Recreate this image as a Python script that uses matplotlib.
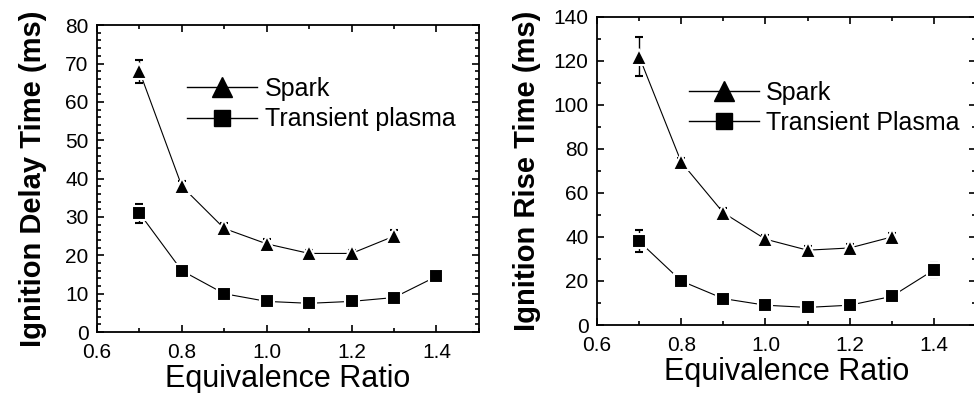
import matplotlib.pyplot as plt
from matplotlib.lines import Line2D
from matplotlib.ticker import MultipleLocator

plt.rcParams['font.family'] = ['Liberation Sans', 'DejaVu Sans']

# -----------------------------
# Data
# -----------------------------
ratio_spark = [0.7, 0.8, 0.9, 1.0, 1.1, 1.2, 1.3]
ratio_plasma = [0.7, 0.8, 0.9, 1.0, 1.1, 1.2, 1.3, 1.4]

delay_spark = [68, 38, 27, 23, 20.5, 20.5, 25]
delay_spark_err = [3, 1.5, 1.5, 1.2, 1, 1, 1.5]
delay_plasma = [31, 16, 10, 8, 7.5, 8, 9, 14.5]
delay_plasma_err = [2.5, 1.5, 1.2, 1, 0.8, 0.8, 1, 1.2]

rise_spark = [122, 74, 51, 39, 34, 35, 40]
rise_spark_err = [9, 2, 2, 2, 2, 2, 2]
rise_plasma = [38, 20, 12, 9, 8, 9, 13, 25]
rise_plasma_err = [5, 1, 1, 1, 1, 1, 2, 3]

# -----------------------------
# Figure
# -----------------------------
fig = plt.figure(figsize=(9.74, 3.93), dpi=100)
ax1 = fig.add_axes([0.0996, 0.155, 0.392, 0.781])
ax2 = fig.add_axes([0.613, 0.173, 0.389, 0.784])


def draw(ax, sy, se, py, pe, plasma_label, ymax, major, minor, ylabel,
         leg_xy, ypad):
    ax.errorbar(ratio_spark, sy, yerr=se, color='black', lw=0.8,
                elinewidth=1, capsize=3, marker='^', ms=12, mec='white',
                mew=1.5, mfc='black')
    ax.errorbar(ratio_plasma, py, yerr=pe, color='black', lw=0.8,
                elinewidth=1, capsize=3, marker='s', ms=10.5, mec='white',
                mew=1.5, mfc='black')
    ax.set_xlim(0.6, 1.5)
    ax.set_ylim(0, ymax)
    ax.xaxis.set_minor_locator(MultipleLocator(0.1))
    ax.yaxis.set_major_locator(MultipleLocator(major))
    ax.yaxis.set_minor_locator(MultipleLocator(minor))
    ax.set_xticks([0.6, 0.8, 1.0, 1.2, 1.4])
    ax.set_xticklabels(['0.6', '0.8', '1.0', '1.2', '1.4'])
    ax.tick_params(which='both', direction='in', top=True, right=True,
                   labelsize=15, width=1.2)
    ax.tick_params(which='major', length=5)
    ax.tick_params(which='minor', length=3)
    ax.tick_params(axis='x', which='major', pad=8)
    ax.tick_params(axis='y', which='major', pad=6)
    for s in ax.spines.values():
        s.set_linewidth(1.3)
    ax.set_xlabel('Equivalence Ratio', fontsize=22, labelpad=1)
    ax.set_ylabel(ylabel, fontsize=21, fontweight='bold', labelpad=ypad)
    handles = [
        Line2D([], [], color='black', lw=1, marker='^', ms=15),
        Line2D([], [], color='black', lw=1, marker='s', ms=12),
    ]
    ax.legend(handles, ['Spark', plasma_label], loc='upper left',
              bbox_to_anchor=leg_xy, frameon=False, fontsize=18,
              handlelength=2.8, handletextpad=0.3, labelspacing=0.25,
              borderaxespad=0)


draw(ax1, delay_spark, delay_spark_err, delay_plasma, delay_plasma_err,
     'Transient plasma', 80, 10, 2, 'Ignition Delay Time (ms)',
     (0.21, 0.863), 13)
draw(ax2, rise_spark, rise_spark_err, rise_plasma, rise_plasma_err,
     'Transient Plasma', 140, 20, 10, 'Ignition Rise Time (ms)',
     (0.215, 0.825), 9)

fig.savefig('out.png', dpi=100)
